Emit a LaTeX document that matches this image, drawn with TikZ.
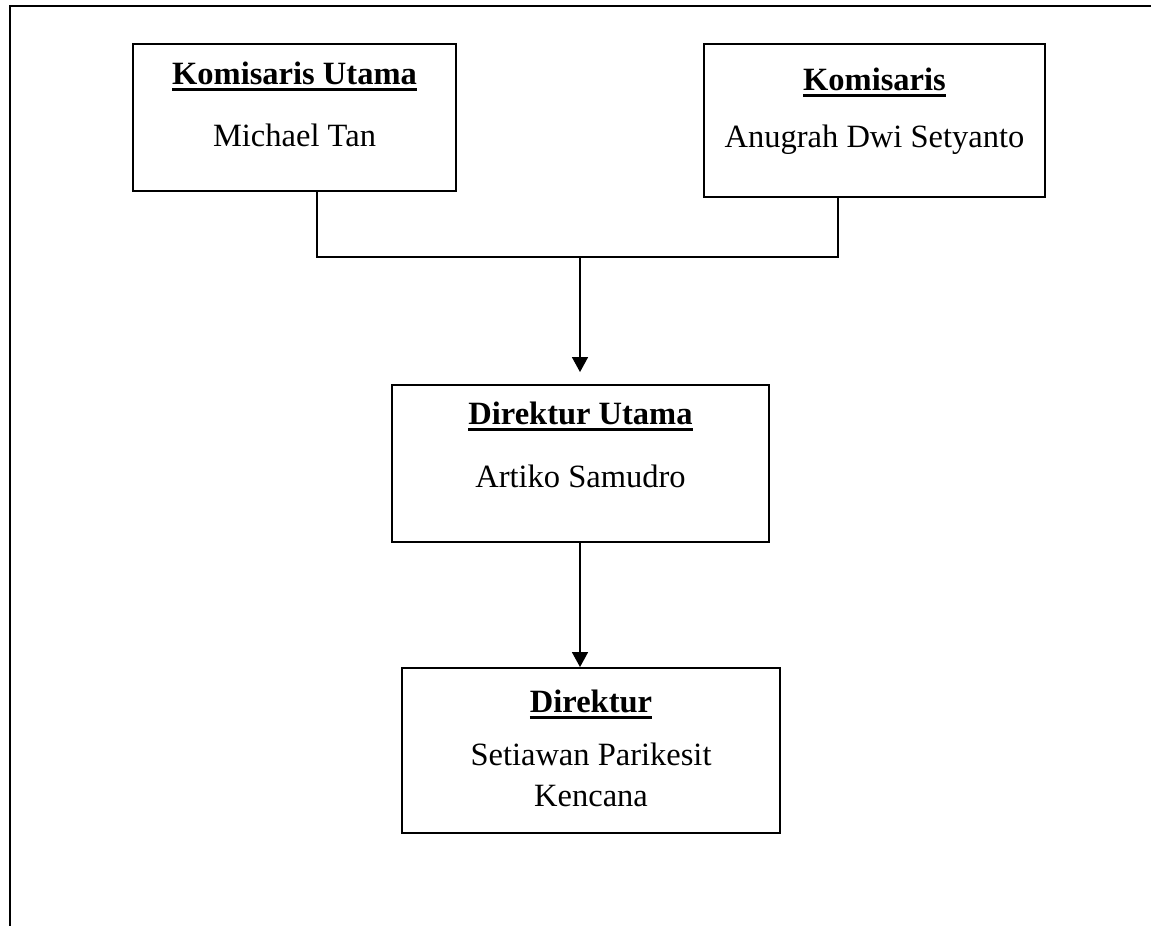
\documentclass[tikz,border=0pt]{standalone}
\usepackage{fontspec}
\setmainfont{Liberation Serif}
\usetikzlibrary{arrows.meta}
\newcommand{\garisbawah}[1]{\setbox0=\hbox{#1}\rlap{\copy0}\rule[-0.14cm]{\wd0}{0.066cm}}
\begin{document}
\begin{tikzpicture}[x=0.02cm, y=-0.02cm,
		box/.style = {draw, line width=1.1pt, rectangle, inner sep=0pt},
		judul/.style = {anchor=base, font=\fontsize{18.5}{21}\selectfont\bfseries},
		nama/.style = {anchor=base, align=center, font=\fontsize{18.5}{21}\selectfont},
		garis/.style = {line width=0.9pt},
		panah/.style = {line width=0.9pt, -{Triangle[width=0.32cm,length=0.3cm]}}]
		\useasboundingbox (0,0) rectangle (1151,926);
		\draw[line width=1.1pt] (1151,6) -- (10,6) -- (10,926);
		% kotak
		\node[box, minimum width=6.46cm, minimum height=2.94cm] (kut) at (294.5,117.5) {};
		\node[box, minimum width=6.82cm, minimum height=3.06cm] (kom) at (874.5,120.5) {};
		\node[box, minimum width=7.54cm, minimum height=3.14cm] (dut) at (580.5,463.5) {};
		\node[box, minimum width=7.56cm, minimum height=3.30cm] (dir) at (591,750.5) {};
		% isi
		\node[judul] (kut-j) at ([yshift=-0.82cm]kut.north) {\garisbawah{Komisaris Utama}};
		\node[nama] (kut-n) at ([yshift=-2.06cm]kut.north) {Michael Tan};
		\node[judul] (kom-j) at ([yshift=-0.94cm]kom.north) {\garisbawah{Komisaris}};
		\node[nama] (kom-n) at ([yshift=-2.08cm]kom.north) {Anugrah Dwi Setyanto};
		\node[judul] (dut-j) at ([yshift=-0.80cm]dut.north) {\garisbawah{Direktur Utama}};
		\node[nama] (dut-n) at ([yshift=-2.06cm]dut.north) {Artiko Samudro};
		\node[judul] (dir-j) at ([yshift=-0.90cm]dir.north) {\garisbawah{Direktur}};
		\node[nama] (dir-n) at ([yshift=-2.78cm]dir.north) {Setiawan Parikesit\\[2pt]Kencana};
		% garis
		\coordinate (kiri) at (317,257);
		\coordinate (kanan) at (838,257);
		\coordinate (tengah) at (580,257);
		\draw[garis] (kiri |- kut.south) -- (kiri) -- (kanan) -- (kanan |- kom.south);
		\draw[panah] (tengah) -- ([yshift=0.24cm]tengah |- dut.north);
		\draw[panah] (tengah |- dut.south) -- (tengah |- dir.north);
	\end{tikzpicture}
\end{document}
